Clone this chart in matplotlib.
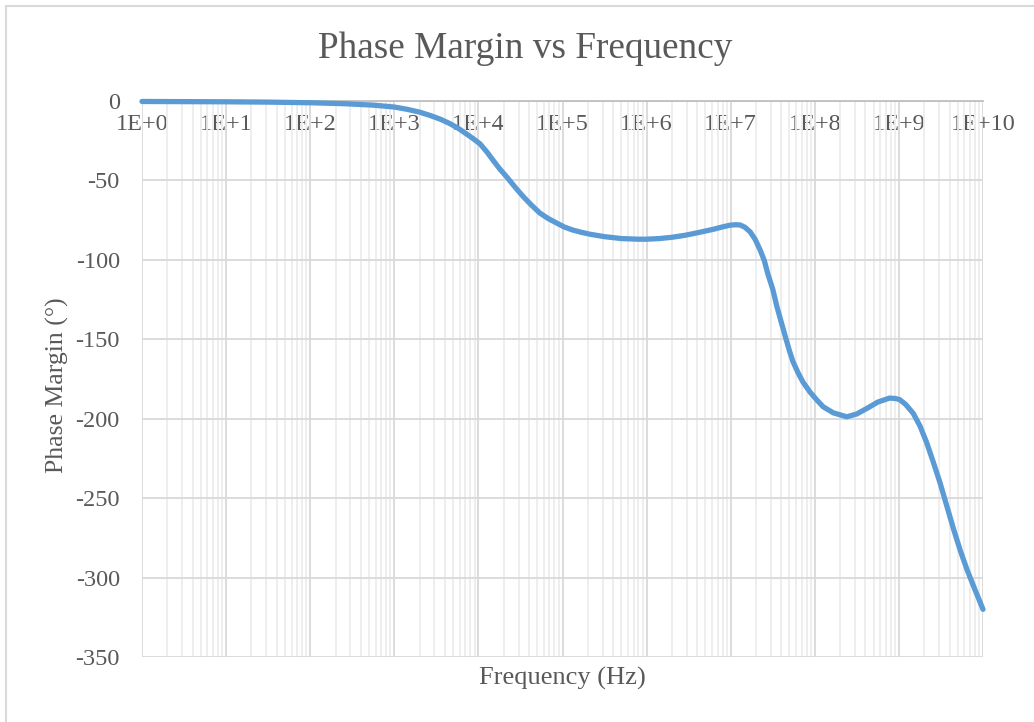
import matplotlib
matplotlib.use("Agg")
import matplotlib.pyplot as plt
import numpy as np
from matplotlib.ticker import LogLocator, NullFormatter, FixedLocator
from matplotlib.patches import Rectangle

# Data (frequency given as log10 of Hz)
log10_freq = [0.0, 0.5, 1.0, 1.5, 2.0, 2.4, 2.75, 3.0, 3.15, 3.3, 3.42, 3.55,
              3.66, 3.76, 3.86, 3.94, 4.02, 4.1, 4.17, 4.25, 4.34, 4.44, 4.53,
              4.63, 4.73, 4.83, 4.93, 5.02, 5.12, 5.22, 5.33, 5.5, 5.7, 5.9,
              6.0, 6.15, 6.3, 6.45, 6.6, 6.79, 6.9, 6.99, 7.05, 7.11, 7.17,
              7.23, 7.29, 7.35, 7.40, 7.44, 7.50, 7.55, 7.60, 7.65, 7.70,
              7.74, 7.80, 7.86, 7.94, 8.02, 8.10, 8.22, 8.38, 8.50, 8.62,
              8.75, 8.89, 8.96, 9.01, 9.08, 9.17, 9.25, 9.33, 9.41, 9.49,
              9.57, 9.65, 9.73, 9.81, 9.90, 10.0]
phase_deg = [-0.3, -0.4, -0.5, -0.7, -1.1, -1.7, -2.6, -3.8, -5.2, -7.0, -9.0,
             -11.5, -14.2, -17.2, -20.8, -23.8, -27.0, -32.0, -37.0, -42.5,
             -48.0, -54.5, -60.0, -65.5, -70.5, -74.0, -76.8, -79.3, -81.2,
             -82.6, -83.9, -85.4, -86.6, -87.0, -87.0, -86.6, -85.8, -84.6,
             -83.0, -80.8, -79.3, -78.2, -77.9, -78.0, -79.5, -82.3, -87.0,
             -93.8, -100.5, -108.5, -118.5, -129.5, -139.0, -148.4, -157.5,
             -164.0, -171.0, -177.0, -183.0, -188.0, -192.5, -196.3, -198.8,
             -197.0, -193.5, -189.5, -187.0, -187.3, -188.0, -191.0, -196.6,
             -204.5, -215.0, -227.5, -240.5, -255.0, -269.5, -283.0, -295.0,
             -307.0, -320.0]

x_tick_vals = [1e0, 1e1, 1e2, 1e3, 1e4, 1e5, 1e6, 1e7, 1e8, 1e9, 1e10]
x_tick_labels = ["1E+0", "1E+1", "1E+2", "1E+3", "1E+4", "1E+5", "1E+6",
                 "1E+7", "1E+8", "1E+9", "1E+10"]
y_tick_vals = [0, -50, -100, -150, -200, -250, -300, -350]

title = "Phase Margin vs Frequency"
xlabel = "Frequency (Hz)"
ylabel = "Phase Margin (°)"

TEXT = "#595959"
GRID_MAJ = "#D9D9D9"
GRID_MIN = "#EDEDED"
LINE = "#5B9BD5"

plt.rcParams["font.family"] = ["Liberation Serif", "DejaVu Serif"]
plt.rcParams["axes.unicode_minus"] = False

W, H = 1034, 722
fig = plt.figure(figsize=(W / 100, H / 100), dpi=100)
fig.patch.set_facecolor("white")

# figure border (only top/left visible in reference)
fig.patches.append(Rectangle((5.5 / W, -0.1), 1.2, 1 - 5.5 / H + 0.1,
                             transform=fig.transFigure, fill=False,
                             edgecolor="#D9D9D9", linewidth=1.5))

left, right, top, bottom = 142, 983, 101, 657
ax = fig.add_axes([left / W, 1 - bottom / H, (right - left) / W, (bottom - top) / H])

ax.set_xscale("log")
ax.set_xlim(1e0, 1e10)
ax.set_ylim(-350, 0)

ax.xaxis.set_major_locator(FixedLocator(x_tick_vals))
ax.set_xticklabels(x_tick_labels)
ax.xaxis.set_minor_locator(LogLocator(base=10, subs=np.arange(2, 10), numticks=100))
ax.xaxis.set_minor_formatter(NullFormatter())
ax.set_yticks(y_tick_vals)

ax.grid(True, which="major", axis="both", color=GRID_MAJ, linewidth=1.3, zorder=0)
ax.grid(True, which="minor", axis="x", color=GRID_MIN, linewidth=1.3, zorder=0)
ax.set_axisbelow(True)

for s in ["top", "right", "left"]:
    ax.spines[s].set_visible(False)
ax.spines["bottom"].set_position(("data", 0))
ax.spines["bottom"].set_color("#BFBFBF")
ax.spines["bottom"].set_linewidth(1.3)

ax.tick_params(axis="x", which="both", length=0, pad=9, labelsize=17.5, labelcolor=TEXT)
ax.tick_params(axis="y", which="both", length=0, pad=16, labelsize=17.5, labelcolor=TEXT)

freq_hz = np.power(10.0, log10_freq)
ax.plot(freq_hz, phase_deg, color=LINE, linewidth=3.8, solid_capstyle="round",
        solid_joinstyle="round", zorder=3, clip_on=False)

fig.text(525 / W, 1 - 49 / H, title, ha="center", va="center",
         fontsize=26.8, color=TEXT)
fig.text(562 / W, 1 - 678 / H, xlabel, ha="center", va="center",
         fontsize=19, color=TEXT)
fig.text(57 / W, 1 - 385 / H, ylabel, ha="center", va="center", rotation=90,
         fontsize=18.5, color=TEXT)

fig.savefig("out.png", dpi=100, facecolor="white")
